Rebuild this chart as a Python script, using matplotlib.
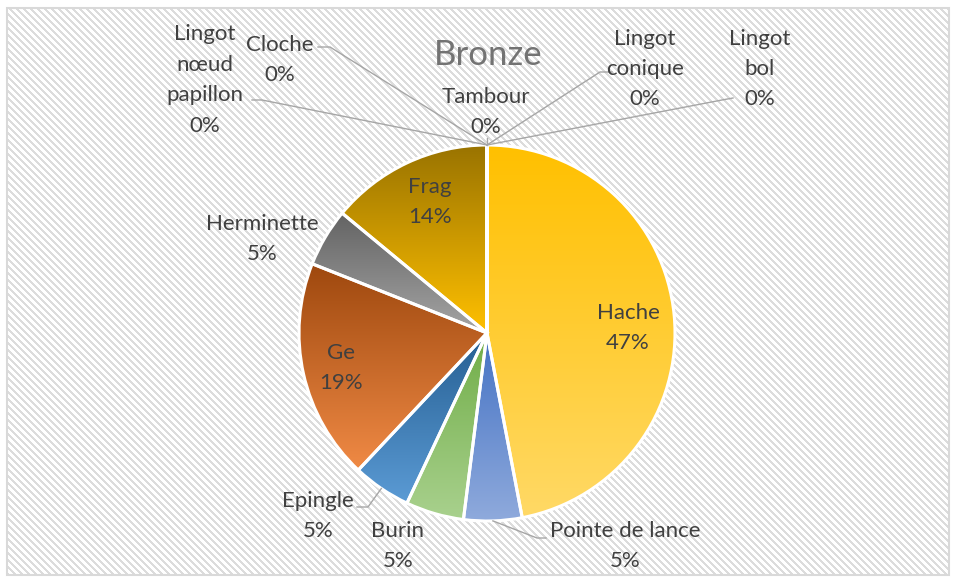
import numpy as np
import matplotlib.pyplot as plt
from matplotlib.colors import LinearSegmentedColormap
from matplotlib.patches import Rectangle

# Composition du mobilier en bronze (parts en %)
categories = ["Hache", "Pointe de lance", "Burin", "Epingle", "Ge", "Herminette", "Frag",
              "Lingot nœud papillon", "Cloche", "Tambour", "Lingot conique", "Lingot bol"]
values = [47, 5, 5, 5, 19, 5, 14, 0, 0, 0, 0, 0]
label_names = ["Hache", "Pointe de lance", "Burin", "Epingle", "Ge", "Herminette", "Frag",
               "Lingot\nnœud\npapillon", "Cloche", "Tambour", "Lingot\nconique", "Lingot\nbol"]

# dégradés (haut -> bas) façon Excel
top_colors = ["#FFC000", "#4472C4", "#70AD47", "#255E91", "#9E480E", "#636363", "#997300",
              "#997300", "#997300", "#997300", "#997300", "#997300"]
bottom_colors = ["#FFD966", "#8FAADC", "#A9D18E", "#5B9BD5", "#F08A45", "#A5A5A5", "#FFC000",
                 "#FFC000", "#FFC000", "#FFC000", "#FFC000", "#FFC000"]

W, H = 956, 581
cx, cy, R = 487, 333, 188

# positions des étiquettes (pixels) et tracés des lignes de rappel
label_xy = [(628, 328), (625, 546), (398, 546), (318, 516), (341, 368), (262, 239), (430, 202),
            (205, 80), (280, 60), (486, 112), (645, 69), (760, 69)]
leaders = {
    "Pointe de lance": [(537, 538), (546, 538)],
    "Epingle": [(368, 507), (357, 507)],
    "Lingot nœud papillon": [(262, 100), (252, 100)],
    "Cloche": [(330, 47), (318, 47)],
    "Tambour": [(487, 138)],
    "Lingot conique": [(600, 72), (612, 72)],
    "Lingot bol": [(722, 100), (733, 98)],
}

fig = plt.figure(figsize=(9.56, 5.81), dpi=100)
ax = fig.add_axes([0, 0, 1, 1])

# fond hachuré + cadre
yy, xx = np.mgrid[0:H, 0:W]
bg = np.where((xx - yy) % 7 < 3, 0.86, 1.0)
bg[(xx < 8) | (xx > 949) | (yy < 8) | (yy > 574)] = 1.0
ax.imshow(bg, cmap="gray", vmin=0, vmax=1, extent=(0, W, H, 0), zorder=0,
          interpolation="nearest")

wedges, _ = ax.pie(values, startangle=-90, counterclock=True, center=(cx, cy), radius=R,
                   wedgeprops=dict(edgecolor="white", linewidth=2.2))

grad = np.linspace(0, 1, 256)[:, None]
for w, v, c0, c1 in zip(wedges, values, top_colors, bottom_colors):
    w.set_facecolor("none")
    w.set_zorder(3)
    if v == 0:
        continue
    ext = w.get_path().get_extents()
    cmap = LinearSegmentedColormap.from_list("g", [c0, c1])
    im = ax.imshow(grad, cmap=cmap, extent=(ext.x0, ext.x1, ext.y1, ext.y0),
                   aspect="auto", zorder=2, interpolation="bilinear")
    im.set_clip_path(w)

total = sum(values)
for cat, name, v, (tx, ty), w in zip(categories, label_names, values, label_xy, wedges):
    ax.text(tx, ty, f"{name}\n{v / total * 100:.0f}%", ha="center", va="center",
            fontsize=16, color="#404040", family="Lato", linespacing=1.65, zorder=5)
    if cat in leaders:
        mid = np.deg2rad((w.theta1 + w.theta2) / 2)
        ax_pt = (cx + R * np.cos(mid), cy + R * np.sin(mid))
        pts = [ax_pt] + leaders[cat]
        ax.plot([p[0] for p in pts], [p[1] for p in pts], color="#A6A6A6", lw=1, zorder=4)

ax.text(488, 55, "Bronze", ha="center", va="center", fontsize=25, color="#737373",
        family="Lato", zorder=5)

ax.add_patch(Rectangle((7.5, 7.5), 942, 567, fill=False, edgecolor="#D9D9D9", lw=1.5, zorder=6))

ax.set_xlim(0, W)
ax.set_ylim(H, 0)
ax.set_aspect("auto")
ax.axis("off")

fig.savefig("out.png", dpi=100)
